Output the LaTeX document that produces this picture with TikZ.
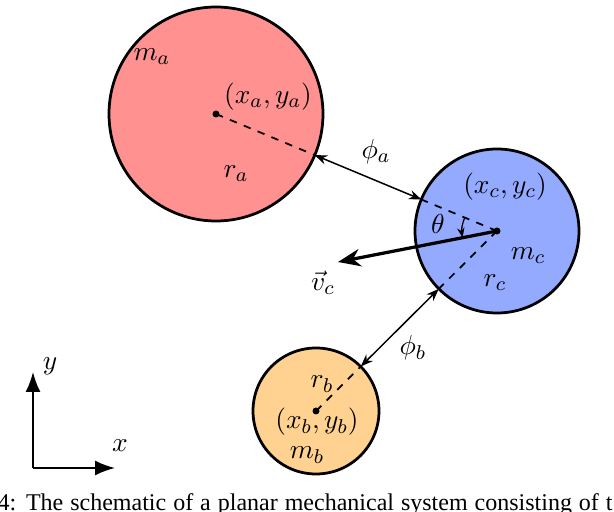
\documentclass[tikz,border=0pt]{standalone}
\usepackage{fontspec}
\newfontfamily\capfont{Liberation Serif}
\usetikzlibrary{arrows.meta,calc}
\begin{document}
\begin{tikzpicture}[x=0.4pt,y=-0.4pt,
  ball/.style={draw=black,line width=1.1pt},
  lab/.style={font=\fontsize{11}{13}\selectfont},
  dist/.style={{Stealth[length=5pt]}-{Stealth[length=5pt]},line width=0.6pt},
  dsh/.style={dashed,line width=0.7pt}]
\clip (0,0) rectangle (614,512);
\fill[white] (0,0) rectangle (614,512);
\coordinate (A) at (216,114);
\coordinate (C) at (497,231);
\coordinate (B) at (316,411);
\draw[ball,fill={rgb,255:red,255;green,145;blue,145}] (A) circle[radius=107];
\draw[ball,fill={rgb,255:red,148;green,170;blue,255}] (C) circle[radius=82];
\draw[ball,fill={rgb,255:red,255;green,210;blue,145}] (B) circle[radius=63];
\fill (A) circle[radius=3.5]; \fill (C) circle[radius=3.5]; \fill (B) circle[radius=3.5];
\coordinate (ae) at ($(A)!107/305!(C)$);
\coordinate (ca) at ($(C)!82/305!(A)$);
\coordinate (cb) at ($(C)!82/255!(B)$);
\coordinate (bc) at ($(B)!63/255!(C)$);
\draw[dsh] (A) -- (ae);
\draw[dsh] (C) -- (ca);
\draw[dsh] (C) -- (cb);
\draw[dsh] (B) -- (bc);
\draw[dist] (ae) -- (ca);
\draw[dist] (cb) -- (bc);
\coordinate (V) at (338,262);
\draw[line width=1.3pt,-{Stealth[length=9pt,width=7pt]}] (C) -- (V);
\draw[line width=0.5pt,-{Stealth[length=4pt]}] ($(C)+(202.6:35)$) arc[start angle=202.6,end angle=169,radius=35];
\node[lab] at (152,57) {$m_a$};
\node[lab] at (268,97) {$(x_a,y_a)$};
\node[lab] at (236,174) {$r_a$};
\node[lab] at (376,152) {$\phi_a$};
\node[lab] at (505,187) {$(x_c,y_c)$};
\node[lab] at (438,224) {$\theta$};
\node[lab] at (528,256) {$m_c$};
\node[lab] at (495,283) {$r_c$};
\node[lab] at (323,283) {$\vec v_c$};
\node[lab] at (413,348) {$\phi_b$};
\node[lab] at (322,384) {$r_b$};
\node[lab] at (317,422) {$(x_b,y_b)$};
\node[lab] at (307,455) {$m_b$};
\coordinate (O) at (33,468);
\draw[line width=0.7pt,-{Latex[length=8pt,width=6pt]}] (O) -- (33,372);
\draw[line width=0.7pt,-{Latex[length=8pt,width=6pt]}] (O) -- (115,468);
\node[lab] at (50,366) {$y$};
\node[lab] at (120,446) {$x$};
\node[anchor=west,inner sep=0,font=\capfont\fontsize{9.6}{11}\selectfont] at (-3,505) {\makebox[246pt][s]{4: The schematic of a planar mechanical system consisting of t}};
\end{tikzpicture}
\end{document}
